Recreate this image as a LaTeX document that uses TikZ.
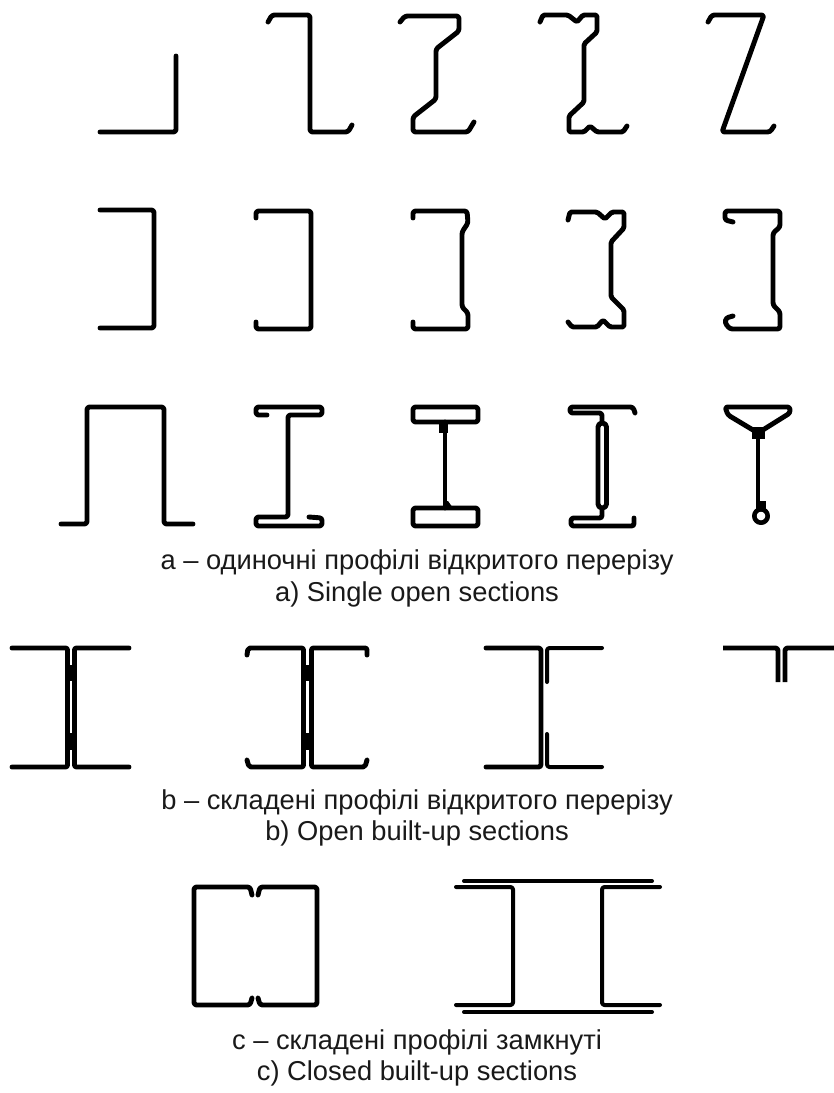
\documentclass[tikz,border=0pt]{standalone}
\usepackage{fontspec}
\setmainfont{Liberation Sans}
\tikzset{
  prof/.style={draw=black,line width=4.9pt,rounded corners=2.5pt,line cap=round,line join=round},
  thin prof/.style={prof,line width=4pt},
  web/.style={draw=black,line width=4.6pt,line cap=round,line join=round},
  cap text/.style={font=\fontsize{27.3pt}{30pt}\selectfont,anchor=center,inner sep=0pt,text=black!90}
}
\begin{document}
\begin{tikzpicture}[x=1pt,y=-1pt]
\useasboundingbox (0,0) rectangle (834,1093);
% row 1
\draw[prof] (100,132) -- (176,132) -- (176,56);
\draw[prof] (268,22) -- (272,15) -- (310,15) -- (310,132) -- (348,132) -- (352,125);
\draw[prof] (400,22) -- (405,16) -- (459,16) -- (459,31) -- (436,49) -- (436,99) -- (413,117) -- (413,132) -- (468,132) -- (474,122);
\draw[prof,rounded corners=1.5pt] (540,22) -- (543,15) -- (568,15) -- (577,22) -- (583,15) -- (597,15) -- (597,32) -- (584,44) -- (584,102) -- (569,116) -- (569,132) -- (584,132) -- (590,126) -- (597,132) -- (623,132) -- (627,126);
\draw[prof] (708,22) -- (712,15) -- (764,15) -- (722,132) -- (770,132) -- (774,126);
% row 2
\draw[prof] (100,210) -- (154,210) -- (154,328) -- (100,328);
\draw[prof] (256,218) -- (256,211) -- (311,211) -- (311,329) -- (256,329) -- (256,322);
\draw[prof] (413,218) -- (413,211) -- (467,211) -- (468,223) -- (462,232) -- (462,307) -- (468,313) -- (468,329) -- (413,329) -- (413,322);
\draw[prof,rounded corners=1.5pt] (568,220) -- (570,212) -- (597,212) -- (605,219) -- (612,212) -- (624,212) -- (624,228) -- (611,242) -- (611,297) -- (624,310) -- (624,327) -- (610,327) -- (603,320) -- (597,327) -- (572,327) -- (568,322);
\draw[prof] (733,222) -- (725,220) -- (725,211) -- (780,211) -- (780,227) -- (773,233) -- (773,305) -- (780,312) -- (780,329) -- (730,329) -- (725,323) -- (726,318) -- (733,316);
% row 3
\draw[prof] (61,524) -- (87,524) -- (87,407) -- (164,407) -- (164,524) -- (193,524);
\draw[prof] (267,415) -- (256,415) -- (256,407) -- (322,407) -- (322,415) -- (288,415) -- (288,517) -- (256,517) -- (256,526) -- (322,526) -- (322,518) -- (309,517);
\draw[prof] (413,407) rectangle (478,422);
\draw[prof] (413,508) rectangle (478,526);
\draw[prof] (445,422) -- (445,508);
\fill[black] (439,422) -- (448,422) -- (448,433) -- (439,433) -- cycle;
\fill[black] (443,508) -- (453,508) -- (448,501) -- (443,501) -- cycle;
\draw[prof] (635,413) -- (633,407) -- (570,407) -- (570,413) -- (602,413) -- (602,422);
\draw[prof,rounded corners=4pt] (598,423) rectangle (606.5,508);
\draw[prof] (602,510) -- (602,518) -- (571,518) -- (571,526) -- (634,526) -- (634,518);
\draw[prof] (725,407) -- (790,407) -- (790,413) -- (758,433) -- (728,415) -- cycle;
\draw[web] (758,433) -- (758,502);
\fill[black] (752,427) rectangle (765,439);
\fill[black] (756,501) rectangle (766,510);
\draw[web] (761,516) circle[radius=6.7pt];
% row 4
\draw[prof,rounded corners=2pt] (12,648) -- (67.5,648) -- (67.5,767) -- (12,767);
\draw[prof,rounded corners=2pt] (129,648) -- (74.5,648) -- (74.5,767) -- (129,767);
\fill[black] (66,665) rectangle (76,681);
\fill[black] (66,733) rectangle (76,750);
\draw[prof,rounded corners=2pt] (247,655) -- (248,648) -- (303.5,648) -- (303.5,767) -- (249,767) -- (247,760);
\draw[prof,rounded corners=2pt] (367,655) -- (367,648) -- (311.5,648) -- (311.5,767) -- (365,767) -- (367,760);
\fill[black] (302,665) rectangle (313,681);
\fill[black] (302,733) rectangle (313,750);
\draw[prof] (486,648) -- (541,648) -- (541,767) -- (486,767);
\draw[thin prof] (547,682) -- (547,648) -- (602,648);
\draw[thin prof] (547,734) -- (547,767) -- (602,767);
\draw[prof,line cap=butt] (723,648) -- (778,648) -- (778,682);
\draw[prof,line cap=butt] (785,682) -- (785,648) -- (834,648);
% row 5
\draw[prof] (252,895) -- (250,887) -- (194,887) -- (194,1005) -- (250,1005) -- (252,998);
\draw[prof] (258,895) -- (260,887) -- (317,887) -- (317,1005) -- (260,1005) -- (258,998);
\draw[thin prof] (464,881) -- (652,881);
\draw[thin prof] (464,1012) -- (652,1012);
\draw[thin prof] (456,887) -- (513,887) -- (513,1005) -- (456,1005);
\draw[thin prof] (660,887) -- (602,887) -- (602,1005) -- (660,1005);
% captions
\node[cap text] (ca) at (417,562) {a – одиночні профілі відкритого перерізу};
\node[cap text] (ca2) at (417,594) {a) Single open sections};
\node[cap text] (cb) at (417,802) {b – складені профілі відкритого перерізу};
\node[cap text] (cb2) at (417,833) {b) Open built-up sections};
\node[cap text] (cc) at (417,1042) {c – складені профілі замкнуті};
\node[cap text] (cc2) at (417,1073) {c) Closed built-up sections};
\end{tikzpicture}
\end{document}
